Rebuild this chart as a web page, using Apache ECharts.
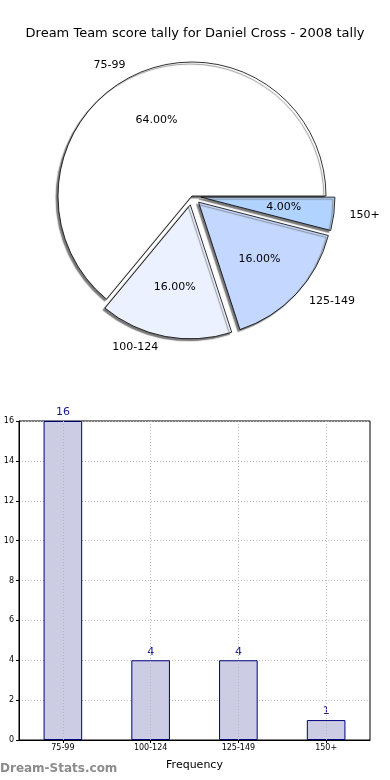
<!DOCTYPE html>
<html><head><meta charset="utf-8">
<script src="https://cdn.jsdelivr.net/npm/echarts@6/dist/echarts.min.js"></script>
<style>html,body{margin:0;padding:0;background:#fff}#c{width:390px;height:780px}</style>
</head><body><div id="c"></div>
<script>
const categories = ['75-99', '100-124', '125-149', '150+'];
const counts = [16, 4, 4, 1];
const sliceColors = ['#ffffff', '#ebf1ff', '#c3d7ff', '#b1d3ff'];
const exploded = [false, true, true, true];
const yTicks = [0, 2, 4, 6, 8, 10, 12, 14, 16];
const titleText = 'Dream Team score tally for Daniel Cross - 2008 tally';

const total = counts.reduce((a, b) => a + b, 0);
const FONT = 'DejaVu Sans';
const R = 134;
const pieCenter = [192, 196];

const pieData = categories.map((c, i) => ({
  name: c, value: counts[i], selected: exploded[i],
  itemStyle: { color: sliceColors[i] }
}));
const pctData = categories.map((c, i) => ({
  name: c, value: counts[i], selected: exploded[i]
}));

const chart = echarts.init(document.getElementById('c'), null, { renderer: 'canvas' });
chart.setOption({
  animation: false,
  backgroundColor: '#fff',
  textStyle: { fontFamily: FONT },
  title: {
    text: titleText, left: 'center', top: 22,
    textStyle: { fontFamily: FONT, fontSize: 13, fontWeight: 'normal', color: '#000' }
  },
  graphic: [{
    type: 'text', left: 0, top: 763,
    style: { text: 'Dream-Stats.com', fill: '#8c8c8c', font: 'bold 12px "DejaVu Sans"' }
  }],
  grid: {
    left: 19, right: 20, top: 421, bottom: 40,
    containLabel: false, outerBoundsMode: 'none',
    show: true, borderColor: '#000', borderWidth: 1, backgroundColor: 'transparent'
  },
  xAxis: {
    type: 'category', data: categories,
    name: 'Frequency', nameLocation: 'middle', nameGap: 20,
    nameTextStyle: { fontFamily: FONT, fontSize: 11, color: '#000' },
    axisLine: { lineStyle: { color: '#000' } },
    axisTick: { show: true, alignWithLabel: true, length: 3, lineStyle: { color: '#000' } },
    axisLabel: { fontFamily: FONT, fontSize: 8, color: '#000', margin: 4 },
    splitLine: { show: false }
  },
  yAxis: {
    type: 'value', min: 0, max: 16, interval: 2,
    name: 'Score Intervals', nameLocation: 'middle', nameGap: 15,
    nameTextStyle: { fontFamily: FONT, fontSize: 10, color: '#000' },
    axisLine: { show: true, lineStyle: { color: '#000' } },
    axisTick: { show: true, length: 3, lineStyle: { color: '#000' } },
    axisLabel: { fontFamily: FONT, fontSize: 8, color: '#000', margin: 5 },
    splitLine: { show: true, lineStyle: { color: '#b8b8b8', type: [1, 2], width: 1 } }
  },
  series: [
    {
      type: 'pie', center: pieCenter, radius: [0, R],
      startAngle: 0, clockwise: false,
      selectedMode: 'multiple', selectedOffset: 9,
      avoidLabelOverlap: false, silent: true,
      data: pieData,
      itemStyle: {
        borderColor: '#000', borderWidth: 0.8,
        shadowColor: '#777', shadowBlur: 1, shadowOffsetX: -2, shadowOffsetY: 2
      },
      label: {
        show: true, position: 'outside', formatter: '{b}',
        fontFamily: FONT, fontSize: 11, color: '#000'
      },
      labelLine: { show: false, length: R * 0.08, length2: 0 },
      emphasis: { disabled: true }
    },
    {
      type: 'pie', center: pieCenter, radius: [0, R * 1.2],
      startAngle: 0, clockwise: false,
      selectedMode: 'multiple', selectedOffset: 9,
      avoidLabelOverlap: false, silent: true, z: 5,
      data: pctData,
      itemStyle: { color: 'rgba(0,0,0,0)', borderWidth: 0 },
      label: {
        show: true, position: 'inside',
        formatter: p => (p.value / total * 100).toFixed(2) + '%',
        fontFamily: FONT, fontSize: 11, color: '#000'
      },
      labelLine: { show: false },
      emphasis: { disabled: true }
    },
    {
      type: 'bar', data: counts, barWidth: '44%',
      itemStyle: { color: '#cccce5', borderColor: '#00007f', borderWidth: 1 },
      label: {
        show: true, position: 'top', distance: 3,
        fontFamily: FONT, fontSize: 11, color: '#1a1a8c'
      },
      markLine: {
        silent: true, symbol: ['none', 'none'], label: { show: false },
        lineStyle: { color: '#b8b8b8', type: [1, 2], width: 1 },
        data: categories.map(c => ({ xAxis: c }))
      }
    }
  ]
});
</script></body></html>
